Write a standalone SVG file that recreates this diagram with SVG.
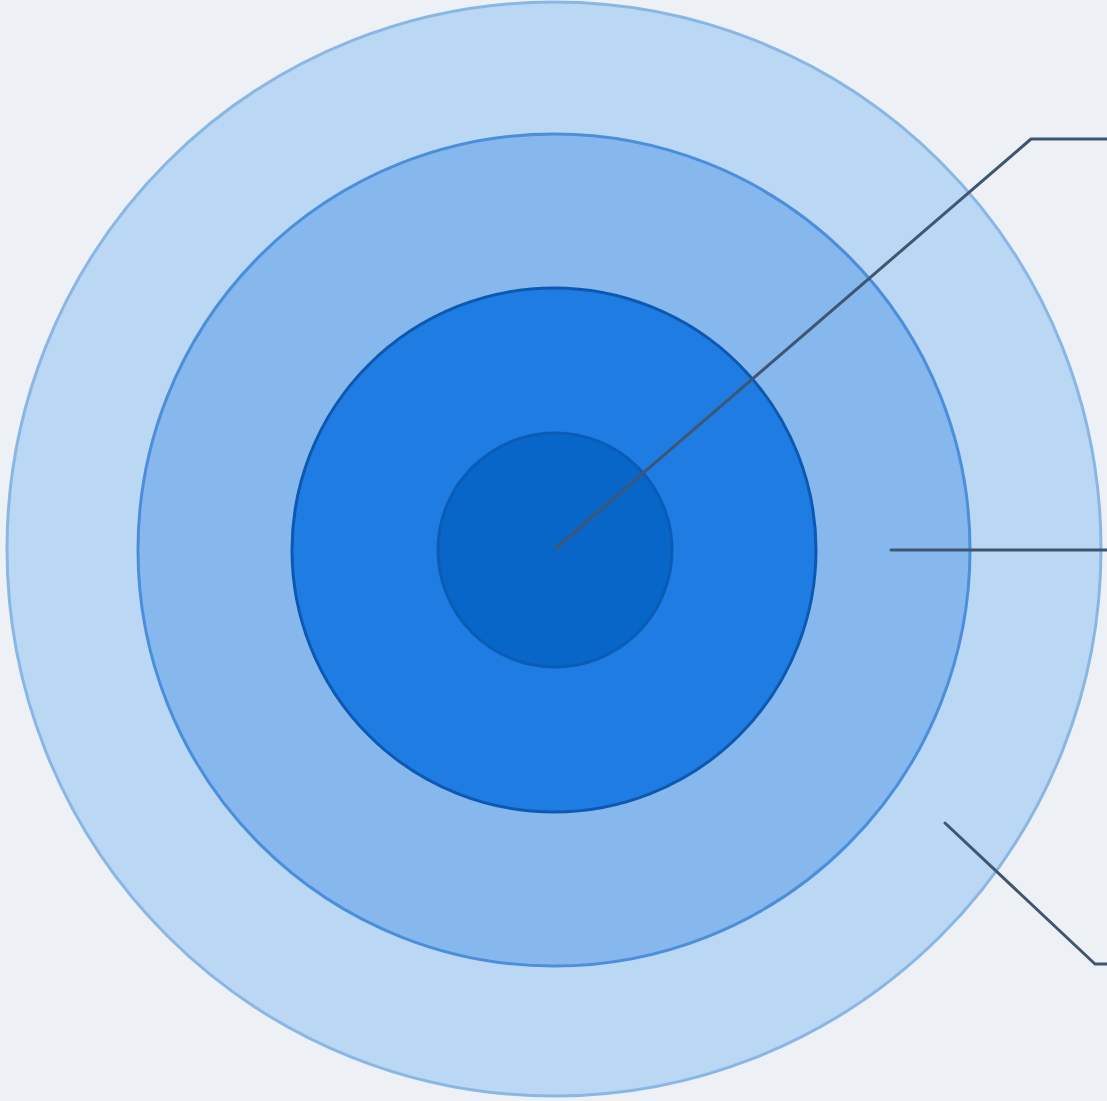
<svg xmlns="http://www.w3.org/2000/svg" width="1107" height="1101" viewBox="0 0 1107 1101">
<style>
.ring{stroke-width:3}
.conn{fill:none;stroke:#3f5672;stroke-width:3;stroke-linejoin:round;stroke-linecap:round}
</style>
<rect width="1107" height="1101" fill="#edf1f5"/>
<g id="ring-outer"><circle class="ring" cx="554" cy="549" r="547" fill="#bad7f3" stroke="#8ab6e6"/></g>
<g id="ring-second"><circle class="ring" cx="554" cy="550" r="416" fill="#86b8ee" stroke="#4b8fdc"/></g>
<g id="ring-third"><circle class="ring" cx="554" cy="550" r="262" fill="#1e7ce3" stroke="#0d58b0"/></g>
<g id="ring-core"><circle class="ring" cx="555" cy="550" r="117" fill="#0866c9" stroke="#0b5cb6"/></g>
<g id="connectors">
<polyline class="conn" points="555,549 1031,139 1107,139"/>
<polyline class="conn" points="891,550 1107,550"/>
<polyline class="conn" points="945,823 1095,964 1107,964"/>
</g>
</svg>
